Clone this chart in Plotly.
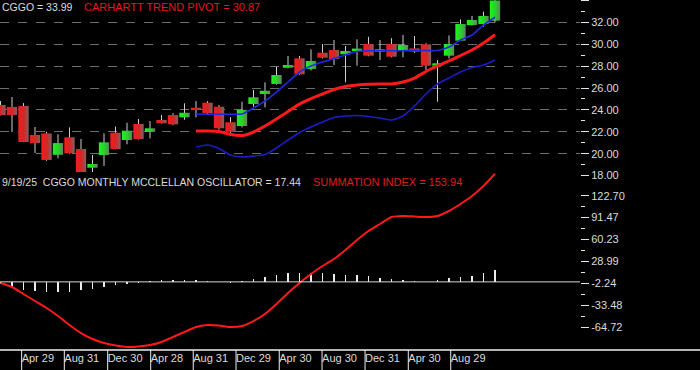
import plotly.graph_objects as go

# ---------------- data ----------------
opens = [24.45, 24.27, 24.36, 21.71, 21.85, 19.90, 21.50, 20.43, 18.72, 19.88,
         21.92, 21.25, 22.71, 22.00, 23.08, 23.53, 23.32, 24.20, 24.66, 24.29,
         22.87, 22.53, 24.54, 25.45, 26.37, 27.85, 28.71, 27.74, 29.22, 29.47,
         29.08, 29.38, 30.02, 29.32, 30.02, 29.38, 29.62, 29.99, 28.04, 28.95,
         30.32, 31.75, 31.84, 32.15]
highs = [24.81, 25.18, 24.62, 22.44, 22.00, 21.77, 22.40, 21.34, 19.88, 21.86,
         22.47, 22.83, 23.17, 22.99, 23.53, 23.70, 24.60, 24.81, 24.80, 24.45,
         23.35, 24.75, 25.82, 26.52, 27.95, 28.92, 28.92, 29.53, 30.02, 30.38,
         29.84, 30.45, 30.68, 30.38, 30.55, 30.84, 30.75, 30.10, 28.56, 30.80,
         32.27, 32.58, 32.97, 34.10]
lows = [23.50, 21.98, 21.05, 20.06, 19.35, 19.58, 20.00, 18.00, 18.06, 18.88,
        20.40, 20.86, 21.30, 21.40, 22.75, 22.60, 23.10, 23.32, 23.60, 22.20,
        21.90, 22.40, 24.29, 24.24, 26.30, 27.80, 27.20, 27.60, 28.70, 28.10,
        26.52, 28.04, 28.90, 28.55, 28.80, 28.80, 29.20, 27.64, 24.75, 28.70,
        30.30, 31.70, 31.60, 32.00]
closes = [23.53, 23.53, 21.07, 20.98, 19.43, 20.97, 20.04, 18.06, 19.06, 21.04,
          20.43, 22.10, 21.34, 22.32, 22.78, 22.68, 23.74, 23.99, 23.69, 22.32,
          22.00, 24.00, 25.15, 25.75, 27.19, 28.10, 27.25, 28.47, 28.77, 28.65,
          29.38, 29.60, 28.95, 29.53, 28.86, 29.93, 29.32, 28.04, 28.26, 30.02,
          31.85, 32.21, 32.58, 33.99]

_n0 = [None] * 17
trend_pivot = _n0 + [22.07, 22.07, 22.03, 21.75, 21.66, 21.98, 22.53, 23.17, 23.85,
                     24.54, 25.04, 25.45, 25.86, 26.14, 26.27, 26.34, 26.37, 26.37,
                     26.55, 26.91, 27.51, 28.01, 28.47, 28.97, 29.47, 30.11, 30.87]
fast_avg = _n0 + [23.60, 23.60, 23.60, 23.60, 23.63, 24.17, 24.81, 25.63, 26.55,
                  27.46, 28.00, 28.37, 28.69, 29.01, 29.33, 29.40, 29.40, 29.40,
                  29.40, 29.42, 29.42, 29.42, 29.74, 30.38, 30.84, 31.75, 32.46]
slow_avg = _n0 + [20.61, 20.79, 20.47, 19.88, 19.70, 19.79, 19.93, 20.52, 21.25,
                  21.94, 22.44, 22.89, 23.31, 23.44, 23.49, 23.40, 23.26, 23.08,
                  23.44, 24.36, 25.45, 26.37, 26.91, 27.46, 27.87, 28.10, 28.56]

summation = [-1.64, -7.34, -17.31, -27.28, -37.25, -48.64, -61.46, -72.86, -81.40, -87.10,
             -90.66, -92.80, -92.09, -89.95, -85.68, -78.56, -71.43, -64.31, -61.46, -62.17,
             -64.31, -62.89, -55.77, -45.80, -31.56, -15.89, -1.64, 11.18, 22.57, 32.54,
             45.36, 59.60, 72.42, 82.39, 92.36, 93.79, 93.08, 92.36, 93.79, 100.91,
             110.88, 122.27, 136.51, 153.94]
oscillator = [-3, -8, -11, -13, -15, -15, -14, -12, -10, -7,
              -5, -3, -1, 1, 2, 3, 3, 2, 1, 0,
              -1, 1, 4, 7, 10, 12, 13, 13, 12, 11,
              10, 10, 8, 6, 4, 2, 1, 0, 2, 5,
              7, 9, 12, 17.44]

date_tick_positions = [1.84, 5.55, 9.32, 13.06, 16.76, 20.48, 24.24, 27.96, 31.70, 35.46, 39.15]
date_tick_labels = ["Apr 29", "Aug 31", "Dec 30", "Apr 28", "Aug 31", "Dec 29",
                    "Apr 30", "Aug 30", "Dec 31", "Apr 30", "Aug 29"]
osc_tick_values = [122.70, 91.47, 60.23, 28.99, -2.24, -33.48, -64.72]

# ---------------- figure ----------------
n = len(opens)
idx = list(range(n))
RED_SCALE = [[0, "#f41c1c"], [0.55, "#d42626"], [1, "#7c6464"]]
GREEN_SCALE = [[0, "#1ef41e"], [0.55, "#28d028"], [1, "#648064"]]

fig = go.Figure()

# wicks
wx, wy = [], []
for i in idx:
    wx += [i, i, None]
    wy += [lows[i], highs[i], None]
fig.add_trace(go.Scatter(x=wx, y=wy, mode="lines", line=dict(color="#cfcfcf", width=1),
                         xaxis="x", yaxis="y", hoverinfo="skip"))

# bodies
hw = 0.45
for i in idx:
    o, c = opens[i], closes[i]
    lo, hi = min(o, c), max(o, c)
    if hi - lo < 0.12:
        mid = (hi + lo) / 2
        lo, hi = mid - 0.06, mid + 0.06
    scale = GREEN_SCALE if c >= o else RED_SCALE
    fig.add_trace(go.Scatter(
        x=[i - hw, i + hw, i + hw, i - hw, i - hw],
        y=[lo, lo, hi, hi, lo],
        mode="lines", line=dict(width=0, color="rgba(0,0,0,0)"),
        fill="toself", fillgradient=dict(type="horizontal", colorscale=scale),
        xaxis="x", yaxis="y", hoverinfo="skip"))

fig.add_trace(go.Scatter(x=idx, y=slow_avg, mode="lines", line=dict(color="#1c1cc8", width=1.6, shape="spline", smoothing=0.6),
                         xaxis="x", yaxis="y", hoverinfo="skip"))
fig.add_trace(go.Scatter(x=idx, y=fast_avg, mode="lines", line=dict(color="#1f2ae0", width=1.6, shape="spline", smoothing=0.6),
                         xaxis="x", yaxis="y", hoverinfo="skip"))
fig.add_trace(go.Scatter(x=idx, y=trend_pivot, mode="lines", line=dict(color="#ff1a1a", width=3, shape="spline", smoothing=0.6),
                         xaxis="x", yaxis="y", hoverinfo="skip"))

# lower panel
fig.add_trace(go.Bar(x=idx, y=oscillator, width=0.17, marker=dict(color="#ececec", line=dict(width=0)),
                     xaxis="x2", yaxis="y2", hoverinfo="skip"))
fig.add_trace(go.Scatter(x=idx, y=summation, mode="lines", line=dict(color="#ff1a1a", width=2, shape="spline", smoothing=0.6),
                         xaxis="x2", yaxis="y2", hoverinfo="skip"))

PLOT_W, PLOT_H = 580, 350
xr = [-0.5 / 11.5, (PLOT_W - 0.5) / 11.5]
tick_col = "#e6e6e6"

minor_osc = [(osc_tick_values[k] + osc_tick_values[k + 1]) / 2 for k in range(len(osc_tick_values) - 1)]

fig.update_layout(
    width=700, height=370, margin=dict(l=0, r=120, t=0, b=20, autoexpand=False),
    paper_bgcolor="black", plot_bgcolor="black", showlegend=False,
    font=dict(family="Arial, Liberation Sans, sans-serif", size=11, color="#dcdcdc"),
    xaxis=dict(domain=[0, 1], anchor="y", range=xr, showticklabels=False, showgrid=False,
               zeroline=False, ticks="", showline=False, automargin=False),
    yaxis=dict(domain=[1 - 176 / PLOT_H, 1], anchor="x", side="right", range=[17.963, 34.037],
               tickmode="linear", tick0=18, dtick=2, tickformat=".2f",
               ticks="outside", ticklen=8, tickwidth=1, tickcolor=tick_col,
               showgrid=True, gridcolor="#6e6e6e", griddash="dash", gridwidth=1,
               zeroline=False, showline=False, automargin=False,
               minor=dict(tick0=19, dtick=2, ticks="outside", ticklen=4, tickcolor=tick_col, showgrid=False)),
    xaxis2=dict(domain=[0, 1], anchor="y2", range=xr, tickmode="array",
                tickvals=date_tick_positions, ticktext=date_tick_labels, tickangle=0,
                ticklabelposition="outside right", ticks="", showgrid=False,
                zeroline=False, showline=False, automargin=False,
                tickfont=dict(size=11, color="#dcdcdc")),
    yaxis2=dict(domain=[0, 1 - 172 / PLOT_H], anchor="x2", side="right", range=[-97.05, 156.46],
                tickmode="array", tickvals=osc_tick_values,
                ticktext=[f"{v:.2f}" for v in osc_tick_values],
                ticks="outside", ticklen=8, tickwidth=1, tickcolor=tick_col,
                showgrid=False, zeroline=False, showline=False, automargin=False,
                minor=dict(tickvals=minor_osc, ticks="outside", ticklen=4, tickcolor=tick_col, showgrid=False)),
    bargap=0,
)

shapes = [
    dict(type="line", xref="paper", yref="paper", x0=0, x1=700 / PLOT_W, y0=0, y1=0,
         line=dict(color="#f0f0f0", width=1.5)),
    dict(type="line", xref="paper", yref="y2", x0=0, x1=1, y0=0, y1=0,
         line=dict(color="#d8d8d8", width=1)),
]
for p in date_tick_positions:
    shapes.append(dict(type="line", xref="x2", yref="paper", x0=p, x1=p, y0=0, y1=-20 / PLOT_H,
                       line=dict(color="#f0f0f0", width=1)))
fig.update_layout(shapes=shapes)

def ann(text, px, py, color, size):
    return dict(text=text, x=px / PLOT_W, y=(PLOT_H - py) / PLOT_H, xref="paper", yref="paper",
                xanchor="left", yanchor="middle", showarrow=False,
                font=dict(size=size, color=color))

fig.update_layout(annotations=[
    ann("CGGO = 33.99", 0, 7, "#dcdcdc", 10.5),
    ann("CARHARTT TREND PIVOT = 30.87", 82, 7, "#e01c1c", 11),
    ann("9/19/25\u00a0 CGGO MONTHLY MCCLELLAN OSCILLATOR = 17.44", 0, 182, "#dcdcdc", 10.5),
    ann("SUMMATION INDEX = 153.94", 311, 182, "#e01c1c", 11),
])

fig.write_html("out.html", config={"displayModeBar": False, "staticPlot": True},
               post_script="document.body.style.margin='0';document.body.style.padding='0';")
